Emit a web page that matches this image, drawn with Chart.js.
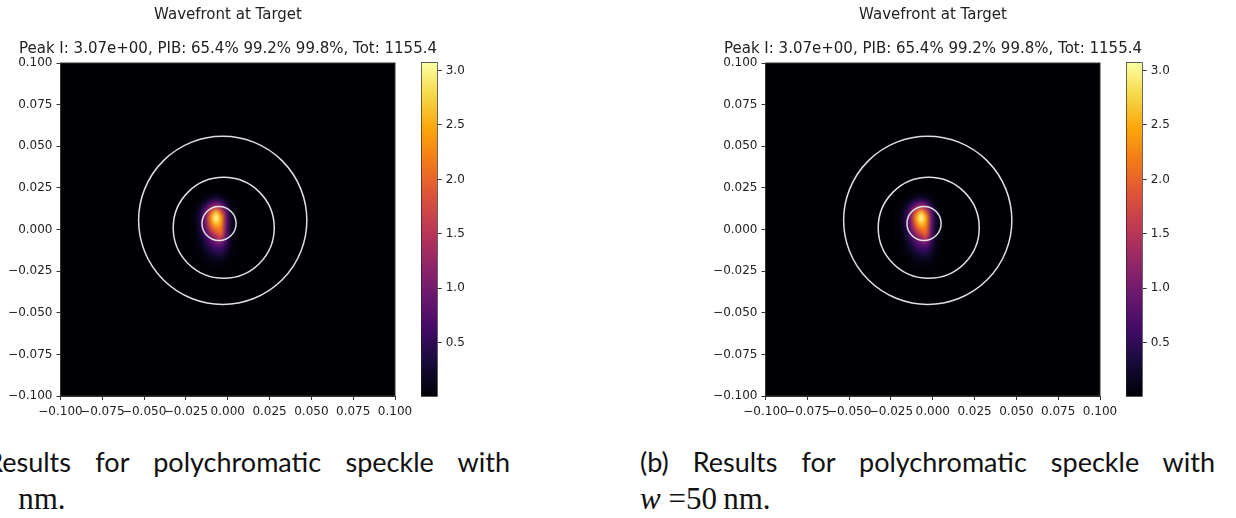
<!DOCTYPE html>
<html>
<head>
<meta charset="utf-8">
<script src="https://cdn.jsdelivr.net/npm/chart.js@4.4.1/dist/chart.umd.min.js"></script>
<style>
  body { margin: 0; background: #fff; width: 1236px; height: 518px; overflow: hidden; position: relative; }
  .panel { position: absolute; top: 0; width: 470px; height: 518px; }
  .panel canvas { position: absolute; }
  .cap1 { position: absolute; left: -65px; top: 445px; width: 575px; font-family: Lato, sans-serif; font-size: 27px;
          color: #111; text-align: justify; text-align-last: justify; line-height: 34px; white-space: nowrap; }
  .cap2 { position: absolute; left: -65px; top: 482px; font-family: "Liberation Serif", serif; font-size: 31px;
          color: #111; line-height: 34px; white-space: nowrap; }
  .clip2 { position: absolute; left: 17px; top: 482px; width: 200px; height: 36px; overflow: hidden; }
  .clip2 .cap2 { left: -82px; top: 0; }
</style>
</head>
<body>
<div class="panel" style="left:0px">
  <canvas id="mainA" width="456" height="421" style="left:0;top:0;width:456px;height:421px"></canvas>
  <canvas id="cbA" width="60" height="421" style="left:410px;top:0;width:60px;height:421px"></canvas>
  <div class="cap1">(a) Results for polychromatic speckle with</div>
  <div class="clip2"><div class="cap2"><i>w</i> =50&#8201;nm.</div></div>
</div>
<div class="panel" style="left:705px">
  <canvas id="mainB" width="456" height="421" style="left:0;top:0;width:456px;height:421px"></canvas>
  <canvas id="cbB" width="60" height="421" style="left:410px;top:0;width:60px;height:421px"></canvas>
  <div class="cap1">(b) Results for polychromatic speckle with</div>
  <div class="cap2"><i>w</i> =50&#8201;nm.</div>
</div>
<script>
// titles
const titleText = 'Wavefront at Target';
const subtitleText = 'Peak I: 3.07e+00, PIB: 65.4% 99.2% 99.8%, Tot: 1155.4';

// tick labels
const axisTicks = [-0.1, -0.075, -0.05, -0.025, 0, 0.025, 0.05, 0.075, 0.1];
const cbTicks = [0.5, 1.0, 1.5, 2.0, 2.5, 3.0];
const cbMin = 0.005;
const cbMax = 3.075;

// intensity grid (cell centres)
const gridX = [-0.022, -0.019, -0.016, -0.013, -0.010, -0.007, -0.004, -0.001, 0.002, 0.005, 0.008];
const gridY = [0.022, 0.019, 0.016, 0.013, 0.010, 0.007, 0.004, 0.001, -0.002, -0.005, -0.008,
               -0.011, -0.014, -0.017, -0.020, -0.023, -0.026];
const intensity = [
  [0.01, 0.01, 0.01, 0.02, 0.03, 0.04, 0.03, 0.02, 0.01, 0.01, 0.01],
  [0.01, 0.01, 0.03, 0.08, 0.18, 0.25, 0.18, 0.07, 0.02, 0.01, 0.01],
  [0.01, 0.03, 0.10, 0.32, 0.65, 0.85, 0.65, 0.25, 0.05, 0.02, 0.01],
  [0.01, 0.05, 0.25, 0.70, 1.30, 1.70, 1.30, 0.55, 0.12, 0.03, 0.01],
  [0.02, 0.08, 0.40, 1.00, 2.00, 2.70, 2.00, 0.90, 0.20, 0.04, 0.01],
  [0.02, 0.10, 0.45, 1.15, 2.35, 3.07, 2.45, 1.00, 0.25, 0.05, 0.01],
  [0.02, 0.10, 0.45, 1.10, 2.15, 2.75, 2.35, 1.00, 0.25, 0.05, 0.01],
  [0.02, 0.09, 0.40, 0.95, 1.80, 2.25, 2.15, 0.95, 0.22, 0.05, 0.01],
  [0.02, 0.07, 0.32, 0.75, 1.35, 1.85, 2.00, 0.90, 0.20, 0.04, 0.01],
  [0.01, 0.05, 0.22, 0.55, 0.95, 1.30, 1.60, 0.75, 0.16, 0.03, 0.01],
  [0.01, 0.04, 0.15, 0.38, 0.70, 0.95, 1.00, 0.55, 0.12, 0.03, 0.01],
  [0.01, 0.03, 0.10, 0.25, 0.48, 0.62, 0.62, 0.38, 0.09, 0.02, 0.01],
  [0.01, 0.02, 0.06, 0.15, 0.30, 0.40, 0.40, 0.24, 0.06, 0.02, 0.01],
  [0.01, 0.01, 0.03, 0.08, 0.15, 0.20, 0.20, 0.12, 0.04, 0.01, 0.01],
  [0.01, 0.01, 0.02, 0.04, 0.07, 0.09, 0.09, 0.06, 0.02, 0.01, 0.01],
  [0.01, 0.01, 0.01, 0.02, 0.03, 0.03, 0.03, 0.02, 0.01, 0.01, 0.01],
  [0.01, 0.01, 0.01, 0.01, 0.01, 0.01, 0.01, 0.01, 0.01, 0.01, 0.01]
];

// power-in-bucket circles
const circleCx = [-0.0052, -0.0024, -0.0030];
const circleCy = [0.0036, 0.0010, 0.0055];
const circleR = [0.0102, 0.0302, 0.0503];

// inferno colormap stops
const infernoStops = ['#000004', '#160b39', '#420a68', '#6a176e', '#932667', '#bc3754',
                      '#dd513a', '#f37819', '#fca50a', '#f6d746', '#fcffa4'];

function hexToRgb(h) {
  return [parseInt(h.slice(1, 3), 16), parseInt(h.slice(3, 5), 16), parseInt(h.slice(5, 7), 16)];
}
const stopRgb = infernoStops.map(hexToRgb);
function inferno(t) {
  t = Math.max(0, Math.min(1, t));
  const f = t * (stopRgb.length - 1);
  const i = Math.min(Math.floor(f), stopRgb.length - 2);
  const u = f - i;
  return stopRgb[i].map((c, k) => Math.round(c + (stopRgb[i + 1][k] - c) * u));
}

const textColor = '#222';
const fontFamily = '"DejaVu Sans", sans-serif';

function fmtTick(v) {
  if (Math.abs(v) < 1e-9) v = 0;
  return (v < 0 ? '\u2212' : '') + Math.abs(v).toFixed(3);
}

// draws the intensity grid as an image, smoothed like imshow
const heatmapPlugin = {
  id: 'heatmap',
  beforeDatasetsDraw(chart) {
    const { ctx, chartArea: a, scales: { x, y } } = chart;
    ctx.save();
    const bg = inferno(0);
    ctx.fillStyle = 'rgb(' + bg.join(',') + ')';
    ctx.fillRect(a.left, a.top, a.width, a.height);
    const off = document.createElement('canvas');
    off.width = gridX.length;
    off.height = gridY.length;
    const octx = off.getContext('2d');
    const img = octx.createImageData(off.width, off.height);
    for (let r = 0; r < gridY.length; r++) {
      for (let c = 0; c < gridX.length; c++) {
        const col = inferno((intensity[r][c] - cbMin) / (cbMax - cbMin));
        const p = (r * gridX.length + c) * 4;
        img.data[p] = col[0]; img.data[p + 1] = col[1]; img.data[p + 2] = col[2]; img.data[p + 3] = 255;
      }
    }
    octx.putImageData(img, 0, 0);
    const hx = (gridX[1] - gridX[0]) / 2;
    const hy = (gridY[0] - gridY[1]) / 2;
    const x0 = x.getPixelForValue(gridX[0] - hx);
    const x1 = x.getPixelForValue(gridX[gridX.length - 1] + hx);
    const y0 = y.getPixelForValue(gridY[0] + hy);
    const y1 = y.getPixelForValue(gridY[gridY.length - 1] - hy);
    ctx.beginPath();
    ctx.rect(a.left, a.top, a.width, a.height);
    ctx.clip();
    ctx.imageSmoothingEnabled = true;
    ctx.imageSmoothingQuality = 'high';
    ctx.drawImage(off, x0, y0, x1 - x0, y1 - y0);
    ctx.restore();
  },
  afterDatasetsDraw(chart) {
    const { ctx, chartArea: a, scales: { x, y } } = chart;
    ctx.save();
    ctx.strokeStyle = 'rgba(235,235,235,0.95)';
    ctx.lineWidth = 1.5;
    for (let i = 0; i < circleR.length; i++) {
      const cx = x.getPixelForValue(circleCx[i]);
      const cy = y.getPixelForValue(circleCy[i]);
      const rad = x.getPixelForValue(circleCx[i] + circleR[i]) - cx;
      ctx.beginPath();
      ctx.arc(cx, cy, rad, 0, Math.PI * 2);
      ctx.stroke();
    }
    // axes frame
    ctx.strokeStyle = '#333';
    ctx.lineWidth = 1;
    ctx.strokeRect(a.left, a.top, a.width, a.height);
    ctx.restore();
  }
};

function makeMain(id) {
  return new Chart(document.getElementById(id), {
    type: 'scatter',
    data: { datasets: [] },
    plugins: [heatmapPlugin],
    options: {
      responsive: false,
      animation: false,
      layout: { padding: 0 },
      plugins: {
        legend: { display: false },
        tooltip: { enabled: false },
        title: {
          display: true, text: titleText, color: textColor,
          font: { family: fontFamily, size: 15, weight: 'normal' },
          padding: { top: 6, bottom: 14 }
        },
        subtitle: {
          display: true, text: subtitleText, color: textColor,
          font: { family: fontFamily, size: 15, weight: 'normal' },
          padding: { top: 2, bottom: 5 }
        }
      },
      scales: {
        x: {
          type: 'linear', min: -0.1, max: 0.1,
          afterBuildTicks: (s) => { s.ticks = axisTicks.map(v => ({ value: v })); },
          afterFit: (s) => { s.height = 25; },
          grid: { drawOnChartArea: false, drawTicks: true, tickLength: 4, color: '#333' },
          border: { display: true, color: '#333' },
          ticks: {
            color: textColor, font: { family: fontFamily, size: 12 }, padding: 5,
            autoSkip: false, maxRotation: 0, minRotation: 0, callback: fmtTick
          }
        },
        y: {
          type: 'linear', min: -0.1, max: 0.1,
          afterBuildTicks: (s) => { s.ticks = axisTicks.map(v => ({ value: v })); },
          afterFit: (s) => { s.width = 60.5; },
          grid: { drawOnChartArea: false, drawTicks: true, tickLength: 4, color: '#333' },
          border: { display: true, color: '#333' },
          ticks: {
            color: textColor, font: { family: fontFamily, size: 12 }, padding: 4,
            autoSkip: false, callback: fmtTick
          }
        },
        // empty right-hand axis: keeps the titles centred over the image
        yPad: {
          type: 'linear', position: 'right', min: -0.1, max: 0.1,
          afterFit: (s) => { s.width = 61; },
          grid: { display: false }, border: { display: false }, ticks: { display: false }
        }
      }
    }
  });
}

function makeColorbar(id) {
  return new Chart(document.getElementById(id), {
    type: 'bar',
    data: {
      labels: [''],
      datasets: [{
        data: [[cbMin, cbMax]],
        barPercentage: 1, categoryPercentage: 1,
        borderWidth: 1, borderColor: '#222', borderSkipped: false,
        backgroundColor: (c) => {
          const a = c.chart.chartArea;
          if (!a) return '#000';
          const g = c.chart.ctx.createLinearGradient(0, a.bottom, 0, a.top);
          for (let i = 0; i <= 20; i++) {
            const col = inferno(i / 20);
            g.addColorStop(i / 20, 'rgb(' + col.join(',') + ')');
          }
          return g;
        }
      }]
    },
    options: {
      responsive: false,
      animation: false,
      layout: { padding: { left: 11, right: 0, top: 62.3, bottom: 24.3 } },
      plugins: { legend: { display: false }, tooltip: { enabled: false } },
      scales: {
        x: { display: false },
        y: {
          position: 'right', min: cbMin, max: cbMax,
          afterBuildTicks: (s) => { s.ticks = cbTicks.map(v => ({ value: v })); },
          afterFit: (s) => { s.width = 32.3; },
          grid: { drawOnChartArea: false, drawTicks: true, tickLength: 4, color: '#333' },
          border: { display: false },
          ticks: {
            color: textColor, font: { family: fontFamily, size: 12 }, padding: 4,
            callback: (v) => v.toFixed(1)
          }
        }
      }
    }
  });
}

makeMain('mainA');
makeColorbar('cbA');
makeMain('mainB');
makeColorbar('cbB');
</script>
</body>
</html>
